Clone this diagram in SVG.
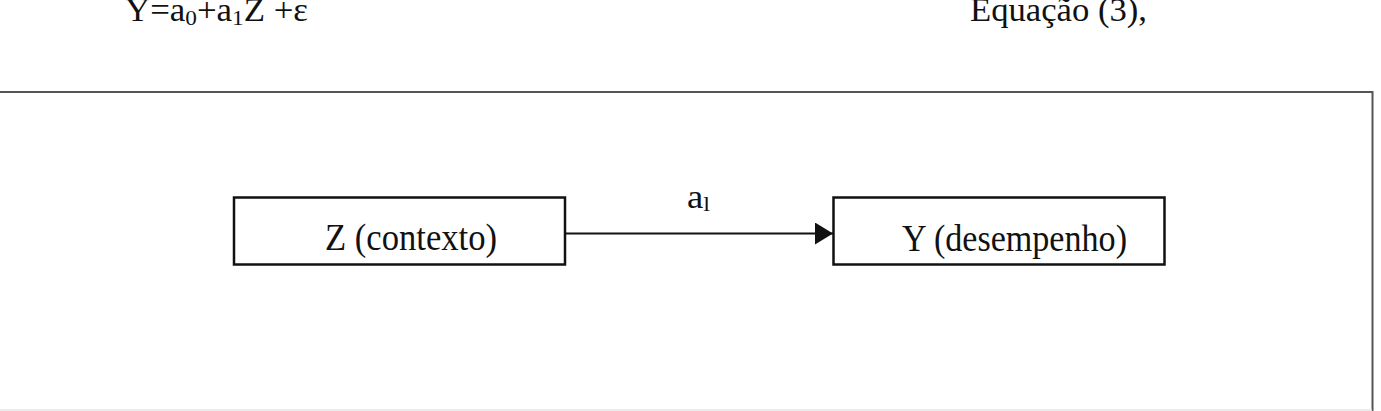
<svg xmlns="http://www.w3.org/2000/svg" width="1381" height="411" viewBox="0 0 1381 411">
<defs>
<style>
.t{font-family:"Liberation Serif","Times New Roman",serif;fill:#111;}
.box{fill:#fff;stroke:#111;stroke-width:2.5;}
.conn{stroke:#111;stroke-width:2;fill:none;}
</style>
<marker id="ah" markerWidth="18" markerHeight="22" refX="18" refY="11" orient="auto" markerUnits="userSpaceOnUse">
<path d="M0,0 L18,11 L0,22 Z" fill="#111"/>
</marker>
</defs>
<rect width="1381" height="411" fill="#fff"/>
<g id="equation">
<text class="t" x="125" y="21" font-size="33" textLength="183" lengthAdjust="spacingAndGlyphs">Y=a<tspan font-size="22" dy="4">0</tspan><tspan dy="-4">+a</tspan><tspan font-size="22" dy="4">1</tspan><tspan dy="-4">Z +ε</tspan></text>
<text class="t" x="970" y="21" font-size="33" textLength="177" lengthAdjust="spacingAndGlyphs">Equação (3),</text>
</g>
<g id="frame">
<path d="M0,92 H1372.5 V411" fill="none" stroke="#555" stroke-width="2"/>
<path d="M0,410 H1372" fill="none" stroke="#e6e6e6" stroke-width="1.5"/>
</g>
<g id="node-z">
<rect class="box" x="234" y="197.5" width="331" height="67"/>
<text class="t" x="325" y="250" font-size="37" textLength="172" lengthAdjust="spacingAndGlyphs">Z (contexto)</text>
</g>
<g id="node-y">
<rect class="box" x="833.5" y="197.5" width="331" height="67"/>
<text class="t" x="902" y="251" font-size="37" textLength="225" lengthAdjust="spacingAndGlyphs">Y (desempenho)</text>
</g>
<g id="connectors">
<line class="conn" x1="565" y1="233.5" x2="833" y2="233.5" marker-end="url(#ah)"/>
<text class="t" x="687" y="208" font-size="33" textLength="23" lengthAdjust="spacingAndGlyphs">a<tspan font-size="22" dy="3">l</tspan></text>
</g>
</svg>
